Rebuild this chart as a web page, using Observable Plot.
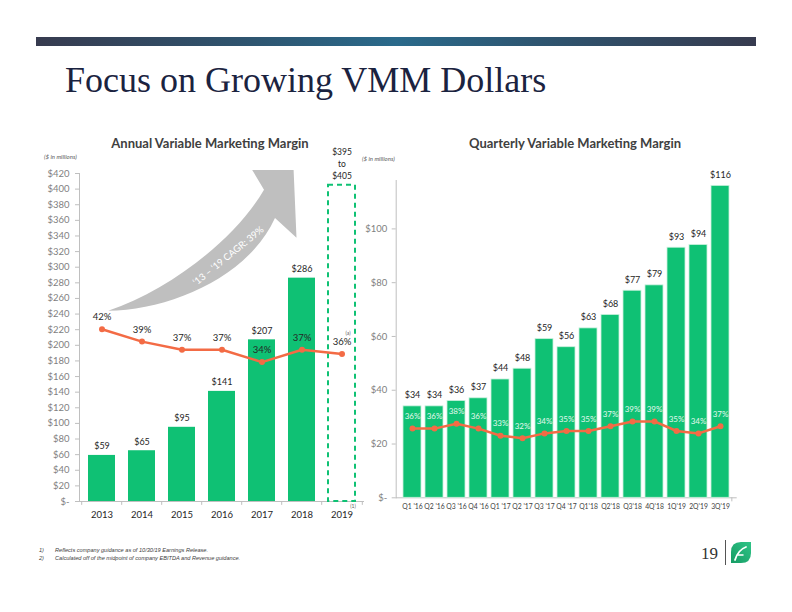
<!DOCTYPE html>
<html><head><meta charset="utf-8">
<script src="https://cdn.jsdelivr.net/npm/d3@7"></script>
<script src="https://cdn.jsdelivr.net/npm/@observablehq/plot@0.6"></script>
<style>
body{margin:0;background:#fff;}
#page{position:relative;width:792px;height:612px;overflow:hidden;background:#fff;font-family:Lato,"Open Sans",sans-serif;}
.abs{position:absolute;}
#topbar{left:36px;top:37px;width:720px;height:9px;background:linear-gradient(90deg,#373b4f 0%,#2e5570 30%,#2a6a8b 50%,#2e5570 70%,#373b4f 100%);}
#title{left:65px;top:62px;font-family:"Liberation Serif",serif;font-size:36px;color:#1b2340;white-space:nowrap;line-height:1;}
.ctitle{font-weight:bold;font-size:13px;color:#404040;white-space:nowrap;transform:translateX(-50%);line-height:1;}
.units{font-style:italic;font-size:6px;color:#595959;white-space:nowrap;line-height:1;}
.foot{font-family:"Liberation Sans Narrow","Liberation Sans",sans-serif;font-style:italic;font-size:5.6px;color:#404040;white-space:nowrap;line-height:1;}
#pnum{left:701px;top:545px;font-family:"Liberation Serif",serif;font-size:17px;color:#333;line-height:1;}
#vline{left:725px;top:540px;width:1px;height:25px;background:#555;}
#left [aria-label^="y-axis"] text,#right [aria-label^="y-axis"] text{fill:#7f7f7f;}
#left [aria-label^="x-axis"] text{fill:#262626;}
#right [aria-label^="x-axis"] text{fill:#404040;font-size:6.8px;}
</style></head>
<body>
<div id="page">
  <div id="topbar" class="abs"></div>
  <div id="title" class="abs">Focus on Growing VMM Dollars</div>
  <div class="abs ctitle" style="left:210px;top:137px;">Annual Variable Marketing Margin</div>
  <div class="abs ctitle" style="left:575px;top:137px;">Quarterly Variable Marketing Margin</div>
  <div class="abs units" style="left:44px;top:154px;">($ in millions)</div>
  <div class="abs units" style="left:362px;top:156px;">($ in millions)</div>
  <div id="left" class="abs" style="left:0px;top:130px;"></div>
  <div id="right" class="abs" style="left:340px;top:130px;"></div>
  <div class="abs foot" style="left:39px;top:548px;">1)</div>
  <div class="abs foot" style="left:55px;top:548px;">Reflects company guidance as of 10/30/19 Earnings Release.</div>
  <div class="abs foot" style="left:39px;top:556px;">2)</div>
  <div class="abs foot" style="left:55px;top:556px;">Calculated off of the midpoint of company EBITDA and Revenue guidance.</div>
  <div id="pnum" class="abs">19</div>
  <div id="vline" class="abs"></div>
  <svg class="abs" style="left:730px;top:541px;" width="22" height="23" viewBox="0 0 22 23">
    <defs><linearGradient id="lg" x1="0" y1="1" x2="1" y2="0"><stop offset="0" stop-color="#169c64"/><stop offset="1" stop-color="#2fc487"/></linearGradient></defs>
    <path d="M1,22 L1,11 Q1,1 11,1 L21,1 L21,12 Q21,22 11,22 Z" fill="url(#lg)"/>
    <path d="M5,19 Q8,9 16,6" stroke="#fff" stroke-width="1.8" fill="none" stroke-linecap="round"/>
    <path d="M8,14 L13,14" stroke="#fff" stroke-width="1.5" fill="none" stroke-linecap="round"/>
  </svg>
</div>
<script>
// ---------- data ----------
const years = ["2013","2014","2015","2016","2017","2018","2019"];
const annualVMM = [59, 65, 95, 141, 207, 286];
const annualPct = [42, 39, 37, 37, 34, 37, 36];
const guidanceLow = 395;
const guidanceHigh = 405;
const annualTicks = [0,20,40,60,80,100,120,140,160,180,200,220,240,260,280,300,320,340,360,380,400,420];

const quarters = ["Q1 '16","Q2 '16","Q3 '16","Q4 '16","Q1 '17","Q2 '17","Q3 '17","Q4 '17","Q1'18","Q2'18","Q3'18","4Q'18","1Q'19","2Q'19","3Q'19"];
const quarterlyVMM = [34, 34, 36, 37, 44, 48, 59, 56, 63, 68, 77, 79, 93, 94, 116];
const quarterlyPct = [36, 36, 38, 36, 33, 32, 34, 35, 35, 37, 39, 39, 35, 34, 37];
const quarterlyTicks = [0,20,40,60,80,100];

const cagrLabel = "\u201813 \u2013 \u201819 CAGR: 39%";

// ---------- helpers ----------
const GREEN = "#0fc174", ORANGE = "#f36b45", INK = "#262626";
const money = v => v === 0 ? "$-" : "$" + v;
// secondary (percent) axes, mapped onto the primary value axis
const annualPctScale = d3.scaleLinear([0, 80], [0, 420]);
const quarterlyPctScale = d3.scaleLinear([7, 140], [0, 118]);

const annualBars = annualVMM.map((vmm, i) => ({year: years[i], vmm}));
const annualLine = annualPct.map((pct, i) => ({year: years[i], pct}));
const quarterData = quarters.map((q, i) => ({q, vmm: quarterlyVMM[i], pct: quarterlyPct[i]}));

// ---------- left chart ----------
const left = Plot.plot({
  width: 380, height: 390,
  marginLeft: 79, marginRight: 17, marginTop: 43, marginBottom: 19,
  style: {background: "transparent", fontFamily: "Lato, sans-serif", fontSize: "9.5px", color: "#bfbfbf", overflow: "visible"},
  x: {domain: years, paddingInner: 0.335, paddingOuter: 0.1675, tickSize: 0, tickPadding: 10, label: null, line: true},
  y: {domain: [0, 420], ticks: annualTicks, tickFormat: money, tickSize: 4, tickPadding: 6, label: null, line: true},
  marks: [
    Plot.barY(annualBars, {x: "year", y: "vmm", fill: GREEN}),
    Plot.barY([{year: years[6], hi: guidanceHigh}], {x: "year", y: "hi", fill: "none", stroke: GREEN, strokeWidth: 2, strokeDasharray: "5,4"}),
    Plot.ruleX(years, {x: d => d, y1: 0, y2: -5, dx: -20.3, stroke: "#bfbfbf"}),
    Plot.ruleX([years[6]], {x: d => d, y1: 0, y2: -5, dx: 20.3, stroke: "#bfbfbf"}),
    Plot.text(annualBars, {x: "year", y: "vmm", text: d => money(d.vmm), dy: -9, fill: INK, fontSize: 9}),
    Plot.line(annualLine, {x: "year", y: d => annualPctScale(d.pct), stroke: ORANGE, strokeWidth: 2.5}),
    Plot.dot(annualLine, {x: "year", y: d => annualPctScale(d.pct), r: 3, fill: ORANGE}),
    Plot.text(annualLine, {x: "year", y: d => annualPctScale(d.pct), text: d => d.pct + "%", dy: -12, fill: INK, fontSize: 9.5}),
    Plot.text([{year: years[6], hi: guidanceHigh}], {x: "year", y: "hi", text: () => "$" + guidanceLow + "\nto\n$" + guidanceHigh, lineAnchor: "bottom", lineHeight: 1.45, dy: -6, fill: INK, fontSize: 8.5}),
    Plot.text([{year: years[6], pct: annualPct[6]}], {x: "year", y: d => annualPctScale(d.pct), text: () => "(a)", dx: 6, dy: -21, fill: "#595959", fontSize: 5}),
    Plot.text([{year: years[6]}], {x: "year", y: () => 0, text: () => "(1)", dx: 11, dy: 5, fill: "#595959", fontSize: 5})
  ]
});

// CAGR arrow annotation, positioned through the chart's scales
{
  const sx = left.scale("x"), sy = left.scale("y");
  const xb = d3.scaleBand(sx.domain, sx.range).paddingInner(sx.paddingInner ?? 0.335).paddingOuter(sx.paddingOuter ?? 0.1675).align(sx.align ?? 0.5);
  const x0 = xb(years[0]) + xb.bandwidth() / 2, step = xb.step();
  const ax = i => x0 + i * step;
  const ay = d3.scaleLinear(sy.domain, sy.range);
  const P = (i, v) => ax(i).toFixed(1) + "," + ay(v).toFixed(1);
  const d = "M" + P(0.22, 243.6) +
            " C" + P(1.74, 244.8) + " " + P(3.66, 285.9) + " " + P(4.33, 362.5) +
            " L" + P(4.86, 337) + " L" + P(4.79, 424) + " L" + P(3.77, 424) + " L" + P(4.06, 398.6) +
            " C" + P(3.34, 334.7) + " " + P(1.74, 270.5) + " " + P(0.22, 243.6) + " Z";
  const g = d3.create("svg:g");
  g.append("path").attr("d", d).attr("fill", "#bfbfbf");
  g.append("text").attr("transform", `translate(${ax(3.18)},${ay(314)}) rotate(-39)`)
    .attr("text-anchor", "middle").attr("dy", "0.35em").attr("fill", "#fff")
    .attr("font-size", 9.5).attr("font-family", "Lato, sans-serif").text(cagrLabel);
  left.insertBefore(g.node(), left.querySelector("g"));
}
document.getElementById("left").appendChild(left);

// ---------- right chart ----------
const right = Plot.plot({
  width: 452, height: 390,
  marginLeft: 55.7, marginRight: 56.3, marginTop: 50, marginBottom: 22.7,
  style: {background: "transparent", fontFamily: "Lato, sans-serif", fontSize: "9.5px", color: "#bfbfbf", overflow: "visible"},
  x: {domain: quarters, paddingInner: 0.2, paddingOuter: 0.1, tickSize: 0, tickPadding: 6, label: null, line: true},
  y: {domain: [0, 118], ticks: quarterlyTicks, tickFormat: money, tickSize: 4, tickPadding: 5, label: null, line: true},
  marks: [
    Plot.barY(quarterData, {x: "q", y: "vmm", fill: GREEN, stroke: "#c9f1dd", strokeWidth: 0.8}),
    Plot.ruleX([quarters[14]], {x: d => d, y1: 0, y2: -1.5, dx: 11.33, stroke: "#bfbfbf"}),
    Plot.text(quarterData, {x: "q", y: "vmm", text: d => money(d.vmm), dy: -11, fill: INK, fontSize: 9}),
    Plot.line(quarterData, {x: "q", y: d => quarterlyPctScale(d.pct), stroke: ORANGE, strokeWidth: 2.5}),
    Plot.dot(quarterData, {x: "q", y: d => quarterlyPctScale(d.pct), r: 3, fill: ORANGE}),
    Plot.text(quarterData, {x: "q", y: d => quarterlyPctScale(d.pct), text: d => d.pct + "%", dy: -12, fill: "#e4f8ee", fontSize: 8})
  ]
});
document.getElementById("right").appendChild(right);
</script>
</body></html>
